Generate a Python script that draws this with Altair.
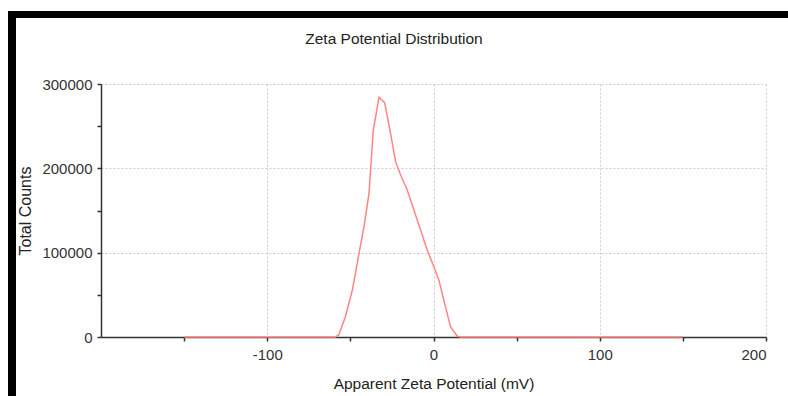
import altair as alt
import pandas as pd

# Data
zeta_mv = [-150, -59, -57, -53, -48.8, -44.8, -41.8, -38.8, -36.2, -32.8, -29.4,
           -26.2, -22.8, -19.8, -15.8, -9.8, -3.8, 0.2, 3.2, 7.2, 10.2, 14.2, 16.2, 150]
total_counts = [0, 0, 2400, 24000, 55700, 99200, 130800, 170400, 245400, 284200, 277800,
                245400, 207900, 192100, 174300, 138700, 103200, 83400, 67600, 36000, 12200,
                1200, 0, 0]

x_ticks = [-150, -100, -50, 0, 50, 100, 150, 200]
y_ticks = [0, 50000, 100000, 150000, 200000, 250000, 300000]
chart_title = ["Zeta Potential Distribution"]

df = pd.DataFrame({"zeta": zeta_mv, "counts": total_counts})

FONT = "Liberation Sans"
W, H = 665, 253
LEFT, TOP = 101, 84

grid_x = {"condition": {"test": "datum.value % 100 === 0", "value": 1}, "value": 0}
grid_y = {"condition": {"test": "datum.value % 100000 === 0", "value": 1}, "value": 0}

line = alt.Chart(df).mark_line(color="#ff8585", strokeWidth=1.5).encode(
    x=alt.X(
        "zeta:Q",
        scale=alt.Scale(domain=[-200, 200], nice=False, zero=False),
        axis=alt.Axis(
            values=x_ticks,
            labelExpr="datum.value % 100 === 0 ? '' + datum.value : ''",
            title="Apparent Zeta Potential (mV)",
            titleX=W / 2,
            titleY=46,
            titleAlign="center",
            titleBaseline="middle",
            titleFontSize=15.5,
            titleFontWeight="normal",
            titleFont=FONT,
            titleColor="#222222",
            labelFont=FONT,
            labelFontSize=15,
            labelColor="#333333",
            labelPadding=6,
            tickSize=4,
            tickColor="#333333",
            tickWidth=1.5,
            domainColor="#333333",
            domainWidth=1.5,
            grid=True,
            gridColor="#cccccc",
            gridDash=[2, 2],
            gridWidth=1,
            gridOpacity=grid_x,
        ),
    ),
    y=alt.Y(
        "counts:Q",
        scale=alt.Scale(domain=[0, 300000], nice=False),
        axis=alt.Axis(
            values=y_ticks,
            labelExpr="datum.value % 100000 === 0 ? '' + datum.value : ''",
            title="Total Counts",
            titleX=-76,
            titleY=H / 2,
            titleAngle=-90,
            titleAlign="center",
            titleBaseline="middle",
            titleFontSize=16,
            titleFontWeight="normal",
            titleFont=FONT,
            titleColor="#222222",
            labelFont=FONT,
            labelFontSize=15,
            labelColor="#333333",
            labelPadding=5,
            tickSize=4,
            tickColor="#333333",
            tickWidth=1.5,
            domainColor="#333333",
            domainWidth=1.5,
            grid=True,
            gridColor="#cccccc",
            gridDash=[2, 2],
            gridWidth=1,
            gridOpacity=grid_y,
        ),
    ),
)

title_mark = alt.Chart(pd.DataFrame({"t": chart_title})).mark_text(
    font=FONT, fontSize=15.5, color="#222222", align="center", baseline="middle"
).encode(
    text="t:N",
    x=alt.value(394 - LEFT),
    y=alt.value(39 - TOP),
)

top_bar = alt.Chart(pd.DataFrame({"part": ["top"]})).mark_rect(color="black").encode(
    x=alt.value(8 - LEFT), x2=alt.value(788 - LEFT),
    y=alt.value(11 - TOP), y2=alt.value(18 - TOP),
)
left_bar = alt.Chart(pd.DataFrame({"part": ["left"]})).mark_rect(color="black").encode(
    x=alt.value(8 - LEFT), x2=alt.value(16 - LEFT),
    y=alt.value(11 - TOP), y2=alt.value(396 - TOP),
)

chart = alt.layer(line, title_mark, top_bar, left_bar).properties(
    width=W,
    height=H,
    padding={"left": LEFT, "top": TOP, "right": 788 - LEFT - W, "bottom": 396 - TOP - H},
    autosize=alt.AutoSizeParams(type="none"),
    background="white",
).configure_view(stroke=None)

chart.save("out.html", embed_options={"renderer": "svg", "actions": False})
